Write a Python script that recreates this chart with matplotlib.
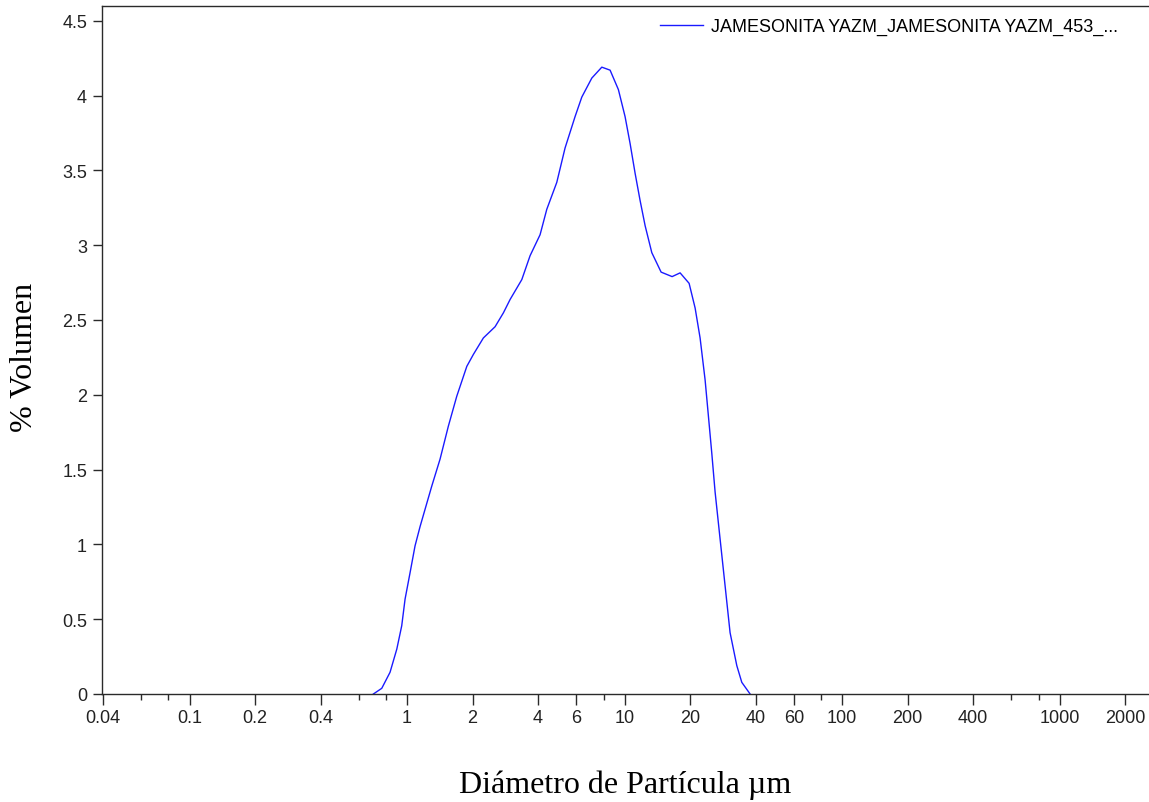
import matplotlib
matplotlib.use('Agg')
import matplotlib.pyplot as plt
from matplotlib.ticker import FixedLocator, NullFormatter

# particle size distribution (diameter in um, % volume)
diametro = [0.700, 0.765, 0.835, 0.897, 0.945, 0.979, 1.032, 1.088, 1.148, 1.210,
            1.299, 1.418, 1.548, 1.692, 1.882, 2.018, 2.243, 2.539, 2.773, 2.976,
            3.369, 3.678, 4.088, 4.389, 4.879, 5.326, 5.922, 6.358, 7.068, 7.858,
            8.578, 9.366, 10.05, 10.60, 11.18, 11.78, 12.43, 13.34, 14.72, 16.54,
            18.00, 19.80, 21.10, 22.24, 23.45, 24.28, 25.17, 26.07, 27.49, 28.98,
            30.55, 32.80, 34.58, 37.76]
volumen = [0.0, 0.038, 0.145, 0.30, 0.456, 0.634, 0.81, 0.99, 1.12, 1.235,
           1.39, 1.57, 1.79, 1.99, 2.19, 2.27, 2.38, 2.455, 2.548, 2.637,
           2.77, 2.93, 3.07, 3.24, 3.42, 3.65, 3.86, 3.99, 4.117, 4.19,
           4.17, 4.04, 3.86, 3.68, 3.48, 3.30, 3.13, 2.95, 2.82, 2.79,
           2.815, 2.745, 2.58, 2.38, 2.10, 1.86, 1.61, 1.35, 1.035, 0.723,
           0.41, 0.19, 0.078, 0.0]

serie = "JAMESONITA YAZM_JAMESONITA YAZM_453_..."

x_major = [0.04, 0.1, 0.2, 0.4, 1, 2, 4, 6, 10, 20, 40, 60, 100, 200, 400, 1000, 2000]
x_minor = [0.06, 0.08, 0.6, 0.8, 8, 80, 600, 800]
x_labels = ["0.04", "0.1", "0.2", "0.4", "1", "2", "4", "6", "10", "20", "40",
            "60", "100", "200", "400", "1000", "2000"]
y_ticks = [0, 0.5, 1, 1.5, 2, 2.5, 3, 3.5, 4, 4.5]
y_labels = ["0", "0.5", "1", "1.5", "2", "2.5", "3", "3.5", "4", "4.5"]

plt.rcParams['font.family'] = ['Liberation Sans', 'DejaVu Sans']

fig = plt.figure(figsize=(11.49, 8.03), dpi=100)
ax = fig.add_axes([0.0885, 0.1345, 0.9115, 0.857])

ax.plot(diametro, volumen, color='#1a1aff', lw=1.0, label=serie)

ax.set_xscale('log')
ax.set_xlim(0.03945, 2576)
ax.set_ylim(0, 4.6)

ax.xaxis.set_major_locator(FixedLocator(x_major))
ax.xaxis.set_minor_locator(FixedLocator(x_minor))
ax.set_xticklabels(x_labels)
ax.xaxis.set_minor_formatter(NullFormatter())
ax.set_yticks(y_ticks)
ax.set_yticklabels(y_labels)

edge = '#2a2a2a'
ax.spines['right'].set_visible(False)
for s in ['left', 'bottom', 'top']:
    ax.spines[s].set_color(edge)
    ax.spines[s].set_linewidth(1.0)

ax.tick_params(axis='x', which='major', direction='out', length=8, width=1.0,
               color=edge, labelsize=13, pad=2.5, labelcolor='#222222')
ax.tick_params(axis='x', which='minor', direction='out', length=4.5, width=1.0,
               color=edge)
ax.tick_params(axis='y', direction='out', length=6.5, width=1.0, color=edge,
               labelsize=13, pad=4, labelcolor='#222222')

ax.set_xlabel("Diámetro de Partícula µm", family='Liberation Serif', fontsize=23,
              va='center')
ax.xaxis.set_label_coords(0.5, -0.131)
ax.set_ylabel("% Volumen", family='Liberation Serif', fontsize=23, va='center')
ax.yaxis.set_label_coords(-0.0735, 0.49)

ax.legend(loc='upper left', bbox_to_anchor=(0.533, 0.982), frameon=False,
          fontsize=13, handlelength=2.4, handletextpad=0.45, borderpad=0,
          borderaxespad=0)

fig.savefig("out.png", dpi=100)
